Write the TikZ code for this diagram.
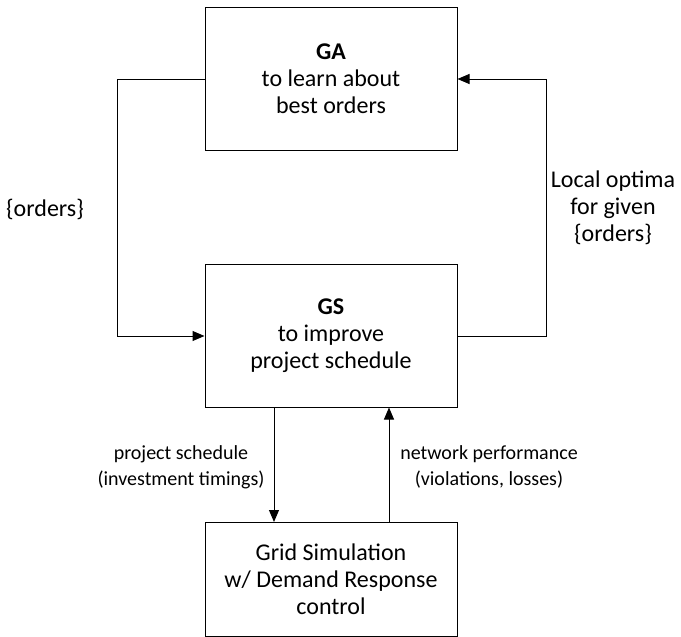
\documentclass[tikz,border=0pt]{standalone}
\usepackage{fontspec}
\setmainfont{Carlito}
\usetikzlibrary{arrows.meta}

\begin{document}
\begin{tikzpicture}[
    x=1pt, y=-1pt,
    block/.style={draw, line width=1pt, minimum width=252pt, align=center,
      font=\fontsize{24}{27}\selectfont},
    note/.style={align=center, font=\fontsize{24}{27}\selectfont},
    flow/.style={align=center, font=\fontsize{20}{26}\selectfont},
    arr/.style={-{Triangle[length=12pt,width=10pt]}, line width=1pt}
]
  \useasboundingbox (0,0) rectangle (681,637);

  % --- BLOCKS ---
  \node[block, minimum height=143pt] (ga) at (331,78.5) {\textbf{GA}\\to learn about\\best orders};
  \node[block, minimum height=143pt] (gs) at (331,335.5) {\textbf{GS}\\to improve\\project schedule};
  \node[block, minimum height=114pt] (sim) at (331,579.5) {Grid Simulation\\w/ Demand Response\\control};

  % --- TURN POINTS ---
  \coordinate (lt) at (117,79);
  \coordinate (lb) at (117,336);
  \coordinate (rt) at (546,79);
  \coordinate (rb) at (546,336);
  \coordinate (dn) at (274,0);
  \coordinate (up) at (389,0);

  % --- LABELS ---
  \node[note] (ord) at (45,209) {\{orders\}};
  \node[note] (opt) at (613,208) {Local optima\\for given\\\{orders\}};
  \node[flow] (sched) at (181,467) {project schedule\\(investment timings)};
  \node[flow] (perf) at (489,467) {network performance\\(violations, losses)};

  % --- CONNECTORS ---
  \draw[arr] (ga.west |- lt) -- (lt) -- (lb) -- (gs.west |- lb);
  \draw[arr] (gs.east |- rb) -- (rb) -- (rt) -- (ga.east |- rt);
  \draw[arr] (gs.south -| dn) -- (sim.north -| dn);
  \draw[arr] (sim.north -| up) -- (gs.south -| up);
\end{tikzpicture}
\end{document}
